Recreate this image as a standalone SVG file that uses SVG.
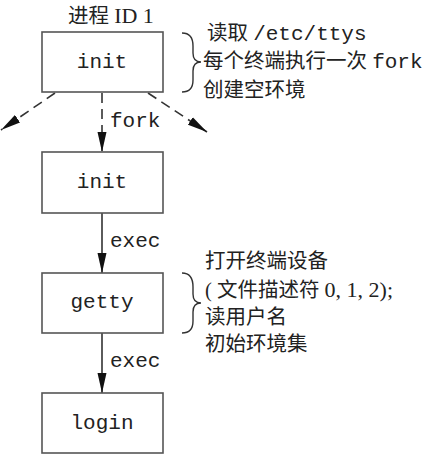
<svg xmlns="http://www.w3.org/2000/svg" width="436" height="457" viewBox="0 0 436 457">
<style>
.box{fill:#fff;stroke:#555;stroke-width:1.6}
.mono{font-family:"Liberation Mono","DejaVu Sans Mono",monospace;font-size:21px;fill:#222}
.cjk{font-family:"Liberation Serif","Noto Sans CJK SC",serif;font-size:20.5px;fill:#222}
.num{font-size:22px}
.line{stroke:#333;stroke-width:1.6;fill:none}
.dash{stroke-dasharray:10 6}
.brace{stroke:#333;stroke-width:1.4;fill:none}
</style>
<defs>
<marker id="ah" markerWidth="20" markerHeight="10" refX="20" refY="5" orient="auto" markerUnits="userSpaceOnUse">
<path d="M0,0.5 L20,5 L0,9.5 Z" fill="#111"/>
</marker>
</defs>
<text class="cjk" x="68" y="23">进程 <tspan class="num">ID 1</tspan></text>
<g id="connectors">
<line class="line dash" x1="102" y1="93" x2="102" y2="152" marker-end="url(#ah)"/>
<line class="line dash" x1="55" y1="93" x2="1" y2="130" marker-end="url(#ah)"/>
<line class="line dash" x1="148" y1="93" x2="207" y2="132" marker-end="url(#ah)"/>
<line class="line" x1="102" y1="213" x2="102" y2="273" marker-end="url(#ah)"/>
<line class="line" x1="102" y1="333" x2="102" y2="393" marker-end="url(#ah)"/>
<text class="mono" x="110" y="127">fork</text>
<text class="mono" x="110" y="247">exec</text>
<text class="mono" x="110" y="367">exec</text>
</g>
<g id="init1">
<rect class="box" x="42" y="32" width="121" height="60"/>
<text class="mono" x="102" y="68" text-anchor="middle">init</text>
</g>
<g id="init2">
<rect class="box" x="42" y="152" width="121" height="61"/>
<text class="mono" x="102" y="188" text-anchor="middle">init</text>
</g>
<g id="getty">
<rect class="box" x="42" y="273" width="121" height="60"/>
<text class="mono" x="102" y="308" text-anchor="middle">getty</text>
</g>
<g id="login">
<rect class="box" x="42" y="393" width="121" height="60"/>
<text class="mono" x="102" y="429" text-anchor="middle">login</text>
</g>
<g id="note1">
<path class="brace" d="M182,33 C190,33 193,38 193,46 L193,53 C193,59 196,62 201,62 C196,62 193,65 193,71 L193,80 C193,88 189,92 182,92"/>
<text class="cjk" x="207" y="40">读取 <tspan class="mono">/etc/ttys</tspan></text>
<text class="cjk" x="203" y="68">每个终端执行一次 <tspan class="mono">fork</tspan></text>
<text class="cjk" x="203" y="97">创建空环境</text>
</g>
<g id="note2">
<path class="brace" d="M182,273 C190,273 193,279 193,287 L193,294 C193,300 196,303 201,303 C196,303 193,306 193,312 L193,321 C193,329 189,333 182,333"/>
<text class="cjk" x="205" y="268">打开终端设备</text>
<text class="cjk" x="205" y="297">( 文件描述符 <tspan class="num">0, 1, 2);</tspan></text>
<text class="cjk" x="205" y="324">读用户名</text>
<text class="cjk" x="205" y="351">初始环境集</text>
</g>
</svg>
